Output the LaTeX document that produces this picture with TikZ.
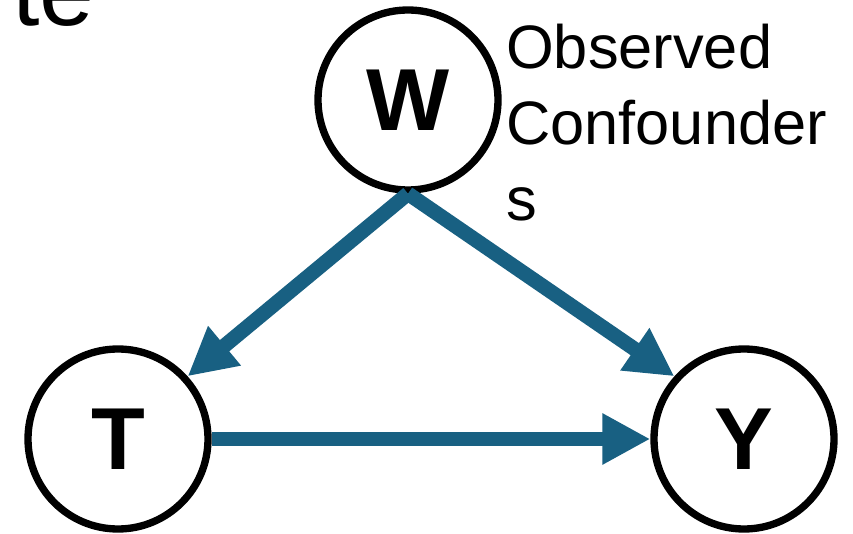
\documentclass[tikz,border=0pt]{standalone}
\usepackage{fontspec}
\setmainfont{Liberation Sans}
\usetikzlibrary{arrows.meta}
\definecolor{edgeblue}{RGB}{24,96,130}
\tikzset{
    var/.style={circle, draw, line width=5.5pt, inner sep=0pt, minimum size=135pt,
        font=\fontsize{66}{66}\selectfont\bfseries},
    causal/.style={edgeblue, line width=11pt, -{Triangle[length=36pt,width=36pt]}},
}
\begin{document}
\begin{tikzpicture}[x=0.75pt,y=-0.75pt]
    \useasboundingbox (0,0) rectangle (853,534);
    \clip (0,0) rectangle (853,534);
    % cut-off heading
    \node[anchor=base west, inner sep=0pt, font=\fontsize{74}{74}\selectfont] (head) at (12,26) {te};
    % variables
    \node[var] (w) at (408,100) {W};
    \node[var] (t) at (118,439) {T};
    \node[var] (y) at (744,439) {Y};
    \node[anchor=north west, align=left, inner sep=0pt,
        font=\fontsize{46}{57}\selectfont] (lbl) at (506,24) {Observed\\Confounder\\s};
    % edges
    \draw[causal] (w.south) -- (t.42);
    \draw[causal] (w.south) -- (y.138);
    \draw[causal] (t) -- (y);
\end{tikzpicture}
\end{document}
